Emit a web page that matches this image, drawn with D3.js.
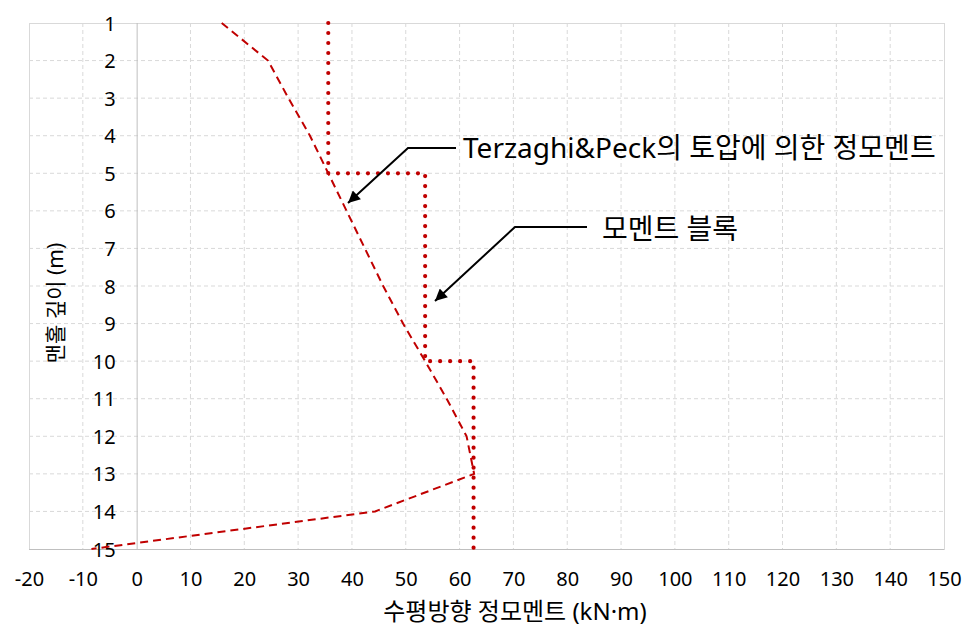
<!DOCTYPE html>
<html><head><meta charset="utf-8">
<script src="https://cdn.jsdelivr.net/npm/d3@7"></script>
<style>
html,body{margin:0;padding:0;background:#fff;}
text{font-family:"Noto Sans","Noto Sans CJK KR",sans-serif;fill:#000;}
</style></head>
<body><svg id="c" width="976" height="637"></svg>
<script>
// ---- data ----
const depths = [1,2,3,4,5,6,7,8,9,10,11,12,13,14,15];
const terzaghiMoment = [15.8,24.4,28.2,32.2,35.6,39.0,42.4,45.8,49.5,53.6,57.6,61.3,62.7,44.3,-8.4];
const blockDepths  = [1,5,5,10,10,15];
const blockMoment  = [35.6,35.6,53.6,53.6,62.6,62.6];
const xTicks = [-20,-10,0,10,20,30,40,50,60,70,80,90,100,110,120,130,140,150];
const yTicks = [1,2,3,4,5,6,7,8,9,10,11,12,13,14,15];
const xTitle = "수평방향 정모멘트 (kN·m)";
const yTitle = "맨홀 깊이 (m)";
const label1 = "Terzaghi&Peck의 토압에 의한 정모멘트";
const label2 = "모멘트 블록";

const svg = d3.select("#c");
const x = d3.scaleLinear().domain([-20,150]).range([29,944]);
const y = d3.scaleLinear().domain([1,15]).range([23,549]);
const red = "#C00000";
const ff = '"Noto Sans","Noto Sans CJK KR",sans-serif';

// grid
const g = svg.append("g");
g.selectAll(".vg").data(xTicks.filter(d=>d!==-20 && d!==0 && d!==150)).enter().append("line")
  .attr("x1",d=>x(d)).attr("x2",d=>x(d)).attr("y1",y(1)).attr("y2",y(15))
  .attr("stroke","#d9d9d9").attr("stroke-width",1).attr("stroke-dasharray","4,3");
g.selectAll(".hg").data(yTicks.filter(d=>d!==1 && d!==15)).enter().append("line")
  .attr("x1",x(-20)).attr("x2",x(150)).attr("y1",d=>y(d)).attr("y2",d=>y(d))
  .attr("stroke","#d9d9d9").attr("stroke-width",1).attr("stroke-dasharray","4,3");
// frame
g.append("rect").attr("x",x(-20)+0.5).attr("y",y(1)+0.5).attr("width",x(150)-x(-20)).attr("height",y(15)-y(1))
  .attr("fill","none").attr("stroke","#d9d9d9");
// axes lines
g.append("line").attr("x1",x(0)+0.5).attr("x2",x(0)+0.5).attr("y1",y(1)).attr("y2",y(15)).attr("stroke","#bfbfbf");
g.append("line").attr("x1",x(-20)).attr("x2",x(150)).attr("y1",y(15)+0.5).attr("y2",y(15)+0.5).attr("stroke","#bfbfbf");

// tick labels
const xAxis = d3.axisBottom(x).tickValues(xTicks).tickSize(0).tickPadding(0).tickFormat(d=>String(d));
const xa = svg.append("g").attr("transform",`translate(0,${y(15)})`).call(xAxis);
xa.select(".domain").remove();
xa.selectAll("text").attr("y",0).attr("dy","37px").style("font-size","20px")
  .style("font-family",ff).attr("fill","#000");

const yAxis = d3.axisLeft(y).tickValues(yTicks).tickSize(0).tickPadding(0).tickFormat(d=>String(d));
const ya = svg.append("g").attr("transform",`translate(${x(0)-21},0)`).call(yAxis);
ya.select(".domain").remove();
ya.selectAll("text").attr("x",0).attr("dy","0.35em").style("font-size","20px")
  .style("font-family",ff).attr("fill","#000");

// titles
svg.append("text").attr("x",515).attr("y",620).attr("text-anchor","middle").style("font-size","24px").text(xTitle);
svg.append("text").attr("transform","translate(63,303) rotate(-90)").attr("text-anchor","middle").style("font-size","21px").text(yTitle);

// series
const line = d3.line().x(d=>x(d[0])).y(d=>y(d[1]));
svg.append("path").datum(terzaghiMoment.map((v,i)=>[v,depths[i]]))
  .attr("d",line).attr("fill","none").attr("stroke",red).attr("stroke-width",2).attr("stroke-dasharray","8,5");
svg.append("path").datum(blockMoment.map((v,i)=>[v,blockDepths[i]]))
  .attr("d",line).attr("fill","none").attr("stroke",red).attr("stroke-width",4.2)
  .attr("stroke-linecap","round").attr("stroke-dasharray","0,10");

// annotations
const defs = svg.append("defs");
defs.append("marker").attr("id","arr").attr("viewBox","0 0 10 10").attr("refX",10).attr("refY",5)
  .attr("markerWidth",7).attr("markerHeight",6).attr("markerUnits","strokeWidth").attr("orient","auto")
  .append("path").attr("d","M0,0 L10,5 L0,10 z").attr("fill","#000");
function callout(pts, label, tx, ty){
  svg.append("path").attr("d", d3.line()(pts)).attr("fill","none").attr("stroke","#000").attr("stroke-width",2)
    .attr("marker-end","url(#arr)");
  svg.append("text").attr("x",tx).attr("y",ty).attr("dy","0.35em").style("font-size","28px").text(label);
}
callout([[456,148],[408,148],[348,203]], label1, 463, 148);
callout([[587,227],[515,227],[435,301]], label2, 602, 229);
</script></body></html>
